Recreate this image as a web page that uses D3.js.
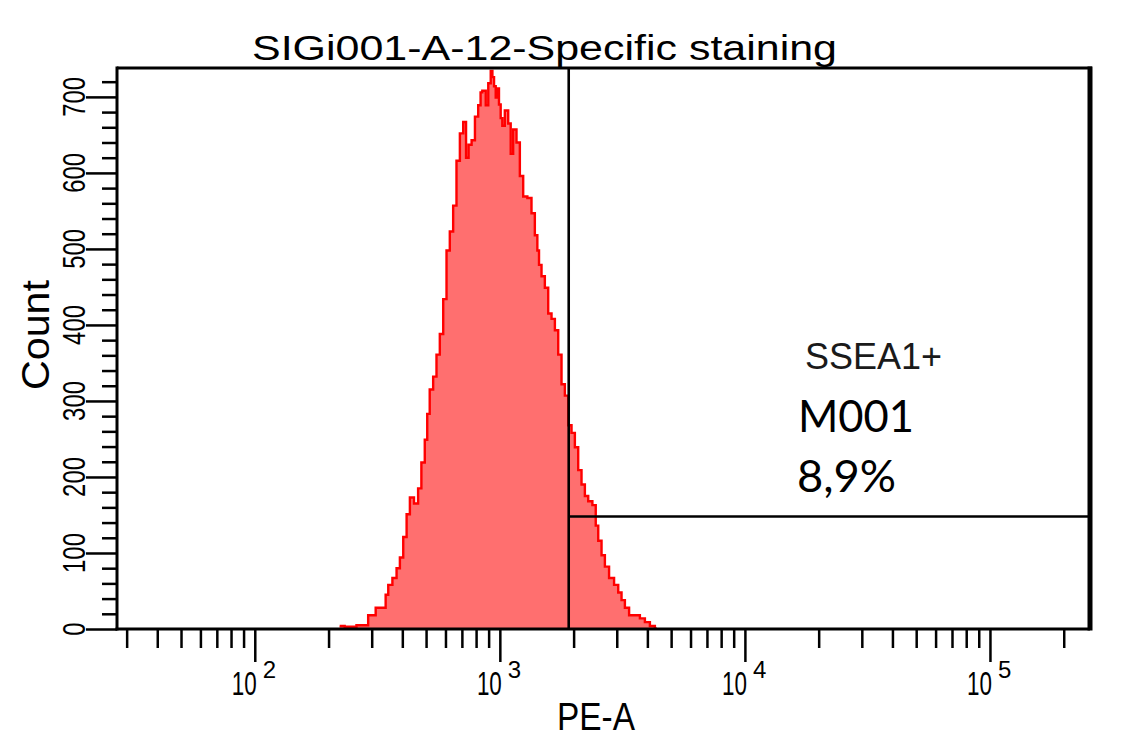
<!DOCTYPE html>
<html>
<head>
<meta charset="utf-8">
<script src="https://cdn.jsdelivr.net/npm/d3@7/dist/d3.min.js"></script>
<style>
  html, body { margin: 0; padding: 0; background: #fff; }
  svg { display: block; }
</style>
</head>
<body>
<script>
// ---------- DATA ----------
const chartTitle = "SIGi001-A-12-Specific staining";
const xLabel = "PE-A";
const yLabel = "Count";

const peValues = [222, 244, 277, 304, 319, 339, 345, 356, 373, 385, 397, 410, 423, 436, 457, 471, 486, 502, 509, 526,
  543, 560, 578, 597, 615, 635, 655, 676, 698, 720, 736, 755, 779, 804, 828, 841, 855, 869, 883, 911,
  925, 940, 954, 970, 984, 1000, 1016, 1031, 1065, 1099, 1116, 1151, 1188, 1226, 1265, 1326, 1367, 1412, 1433, 1457,
  1502, 1551, 1600, 1651, 1704, 1758, 1813, 1872, 1931, 1992, 2056, 2121, 2188, 2259, 2330, 2443, 2482, 2560, 2641, 2726,
  2857, 2995, 3089, 3187, 3290, 3449, 3614, 3846, 3971, 4224, 4361];
const counts = [4, 3, 5, 18, 28, 28, 45, 58, 67, 80, 94, 121, 151, 173, 165, 185, 219, 249, 283, 315,
  332, 361, 388, 434, 498, 523, 557, 616, 652, 667, 620, 637, 643, 674, 689, 706, 708, 708, 689, 718,
  734, 726, 714, 699, 711, 690, 672, 662, 682, 665, 625, 657, 640, 596, 569, 567, 547, 518, 498, 479,
  464, 449, 415, 408, 393, 361, 322, 307, 268, 258, 239, 209, 190, 175, 168, 163, 136, 116, 97, 82,
  67, 58, 48, 38, 28, 18, 18, 14, 9, 4, 1];

// Axis ticks
const xMajorTicks = [100, 1000, 10000, 100000];
const xMajorExp = ["2", "3", "4", "5"];
const xMinorTicks = [30, 40, 50, 60, 70, 80, 90,
  200, 300, 400, 500, 600, 700, 800, 900,
  2000, 3000, 4000, 5000, 6000, 7000, 8000, 9000,
  20000, 30000, 40000, 50000, 60000, 70000, 80000, 90000, 200000];
const yMajorTicks = [0, 100, 200, 300, 400, 500, 600, 700];
const yMinorTicks = [20, 40, 60, 80, 120, 140, 160, 180, 220, 240, 260, 280, 320, 340, 360, 380,
  420, 440, 460, 480, 520, 540, 560, 580, 620, 640, 660, 680, 720];

// Gate (marker) M001
const gateLow = 1910;
const gateLevel = 148;
const gateName = "SSEA1+";
const gateId = "M001";
const gatePct = "8,9%";

// ---------- LAYOUT ----------
const W = 1136, H = 749;
const L = 117, R = 1090, T = 68, B = 629;

const svg = d3.select("body").append("svg").attr("width", W).attr("height", H);

const x = d3.scaleLog().domain([27.4, 256000]).range([L, R]);
const y = d3.scaleLinear().domain([0, 738]).range([B, T]);

const data = peValues.map((v, i) => ({ pe: v, c: counts[i] }));

// Histogram
const area = d3.area().x(d => x(d.pe)).y0(y(0)).y1(d => y(d.c)).curve(d3.curveStep);
const line = d3.line().x(d => x(d.pe)).y(d => y(d.c)).curve(d3.curveStep);
svg.append("path").datum(data).attr("d", area).attr("fill", "#ff6f6f");
svg.append("path").datum(data).attr("d", line).attr("fill", "none")
  .attr("stroke", "#ff0000").attr("stroke-width", 2.4);

// Gate lines
svg.append("line").attr("x1", x(gateLow)).attr("x2", x(gateLow)).attr("y1", T).attr("y2", B)
  .attr("stroke", "#000").attr("stroke-width", 2.6);
svg.append("line").attr("x1", x(gateLow)).attr("x2", R).attr("y1", y(gateLevel)).attr("y2", y(gateLevel))
  .attr("stroke", "#000").attr("stroke-width", 2.6);

// Frame: top and right (thick)
svg.append("line").attr("x1", L).attr("x2", R + 2).attr("y1", T).attr("y2", T)
  .attr("stroke", "#000").attr("stroke-width", 3);
svg.append("line").attr("x1", R).attr("x2", R).attr("y1", T - 1.5).attr("y2", B + 1.5)
  .attr("stroke", "#000").attr("stroke-width", 5);

// X axis
const xAxisMinor = d3.axisBottom(x).tickValues(xMinorTicks).tickSize(19).tickFormat("");
const xAxisMajor = d3.axisBottom(x).tickValues(xMajorTicks).tickSize(33).tickFormat("");
const gxm = svg.append("g").attr("transform", `translate(0,${B})`).call(xAxisMinor);
const gxM = svg.append("g").attr("transform", `translate(0,${B})`).call(xAxisMajor);
[gxm, gxM].forEach(g => {
  g.select(".domain").remove();
  g.selectAll(".tick line").attr("stroke", "#000").attr("stroke-width", 2.5);
});
svg.append("line").attr("x1", L - 1.5).attr("x2", R).attr("y1", B).attr("y2", B)
  .attr("stroke", "#000").attr("stroke-width", 3);

const fontPix = "'Liberation Sans', Arial, sans-serif";
xMajorTicks.forEach((v, i) => {
  const px = x(v);
  // base "10", horizontally condensed like the original bitmap font
  svg.append("text").attr("transform", `translate(${px + 2},695) scale(0.68,1)`)
    .attr("text-anchor", "end").attr("font-family", fontPix).attr("font-size", 33).text("10");
  // exponent
  svg.append("text").attr("x", px + 8).attr("y", 678)
    .attr("font-family", fontPix).attr("font-size", 24).text(xMajorExp[i]);
});

// Y axis
const yAxisMinor = d3.axisLeft(y).tickValues(yMinorTicks).tickSize(15).tickFormat("");
const yAxisMajor = d3.axisLeft(y).tickValues(yMajorTicks).tickSize(31).tickFormat("");
const gym = svg.append("g").attr("transform", `translate(${L},0)`).call(yAxisMinor);
const gyM = svg.append("g").attr("transform", `translate(${L},0)`).call(yAxisMajor);
[gym, gyM].forEach(g => {
  g.select(".domain").remove();
  g.selectAll(".tick line").attr("stroke", "#000").attr("stroke-width", 2.5);
});
svg.append("line").attr("x1", L).attr("x2", L).attr("y1", T - 1.5).attr("y2", B + 1.5)
  .attr("stroke", "#000").attr("stroke-width", 3);

yMajorTicks.forEach(v => {
  const s = String(v);
  svg.append("text").attr("transform", `translate(85,${y(v)}) rotate(-90)`)
    .attr("text-anchor", "middle").attr("font-family", fontPix).attr("font-size", 31)
    .attr("textLength", s.length * 13.3).attr("lengthAdjust", "spacingAndGlyphs").text(s);
});

// Axis titles
svg.append("text").attr("transform", `translate(49,335) rotate(-90)`)
  .attr("text-anchor", "middle").attr("font-family", fontPix).attr("font-size", 38)
  .attr("textLength", 110).attr("lengthAdjust", "spacingAndGlyphs").text(yLabel);
svg.append("text").attr("x", 596).attr("y", 730)
  .attr("text-anchor", "middle").attr("font-family", fontPix).attr("font-size", 38)
  .attr("textLength", 78).attr("lengthAdjust", "spacingAndGlyphs").text(xLabel);

// Title
svg.append("text").attr("x", 252).attr("y", 60)
  .attr("font-family", fontPix).attr("font-size", 35)
  .attr("textLength", 585).attr("lengthAdjust", "spacingAndGlyphs").text(chartTitle);

// Gate annotation
svg.append("text").attr("x", 805).attr("y", 369)
  .attr("font-family", fontPix).attr("font-size", 36).attr("fill", "#1a1a1a")
  .attr("textLength", 137).attr("lengthAdjust", "spacingAndGlyphs").text(gateName);
svg.append("text").attr("x", 798).attr("y", 432)
  .attr("font-family", "Lato, 'Open Sans', sans-serif").attr("font-size", 44)
  .attr("textLength", 116).attr("lengthAdjust", "spacingAndGlyphs").text(gateId);
svg.append("text").attr("x", 797).attr("y", 492)
  .attr("font-family", "Lato, 'Open Sans', sans-serif").attr("font-size", 44)
  .attr("textLength", 99).attr("lengthAdjust", "spacingAndGlyphs").text(gatePct);
</script>
</body>
</html>
